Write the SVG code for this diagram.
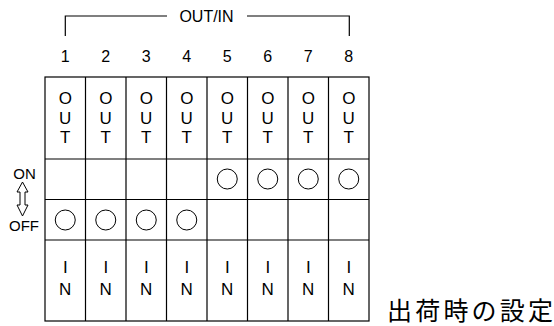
<svg xmlns="http://www.w3.org/2000/svg" width="554" height="326" viewBox="0 0 554 326">
<style>
text{font-family:"Liberation Sans",Arial,sans-serif;fill:#000;text-anchor:middle}
.l{font-size:17px}
.d{font-size:16px}
.o{font-size:15px}
.g{fill:none;stroke:#000;stroke-width:1.2}
.c{fill:none;stroke:#000;stroke-width:1}
.jp{font-family:"Noto Sans CJK JP","Noto Sans CJK SC",sans-serif;font-size:25px;text-anchor:start}
</style>
<rect width="554" height="326" fill="#fff"/>
<g id="bracket">
<path class="g" d="M65.3,36 V16 H167 M247,16 H349.3 V36"/>
<text x="206.5" y="22" class="d">OUT/IN</text>
</g>
<g id="numbers">
<text x="65.25" y="62" class="d">1</text>
<text x="105.75" y="62" class="d">2</text>
<text x="146.25" y="62" class="d">3</text>
<text x="186.75" y="62" class="d">4</text>
<text x="227.25" y="62" class="d">5</text>
<text x="267.75" y="62" class="d">6</text>
<text x="308.25" y="62" class="d">7</text>
<text x="348.75" y="62" class="d">8</text>
</g>
<g id="grid">
<rect class="g" x="45" y="77" width="324" height="244"/>
<path class="g" d="M45,159 H369 M45,199.5 H369 M45,240 H369 M85.5,77 V321 M126,77 V321 M166.5,77 V321 M207,77 V321 M247.5,77 V321 M288,77 V321 M328.5,77 V321"/>
</g>
<g id="out-labels">
<text x="65.25" y="104" class="l">O</text><text x="65.25" y="123.5" class="l">U</text><text x="65.25" y="143" class="l">T</text>
<text x="105.75" y="104" class="l">O</text><text x="105.75" y="123.5" class="l">U</text><text x="105.75" y="143" class="l">T</text>
<text x="146.25" y="104" class="l">O</text><text x="146.25" y="123.5" class="l">U</text><text x="146.25" y="143" class="l">T</text>
<text x="186.75" y="104" class="l">O</text><text x="186.75" y="123.5" class="l">U</text><text x="186.75" y="143" class="l">T</text>
<text x="227.25" y="104" class="l">O</text><text x="227.25" y="123.5" class="l">U</text><text x="227.25" y="143" class="l">T</text>
<text x="267.75" y="104" class="l">O</text><text x="267.75" y="123.5" class="l">U</text><text x="267.75" y="143" class="l">T</text>
<text x="308.25" y="104" class="l">O</text><text x="308.25" y="123.5" class="l">U</text><text x="308.25" y="143" class="l">T</text>
<text x="348.75" y="104" class="l">O</text><text x="348.75" y="123.5" class="l">U</text><text x="348.75" y="143" class="l">T</text>
</g>
<g id="in-labels">
<text x="65.25" y="273" class="l">I</text><text x="65.25" y="295" class="l">N</text>
<text x="105.75" y="273" class="l">I</text><text x="105.75" y="295" class="l">N</text>
<text x="146.25" y="273" class="l">I</text><text x="146.25" y="295" class="l">N</text>
<text x="186.75" y="273" class="l">I</text><text x="186.75" y="295" class="l">N</text>
<text x="227.25" y="273" class="l">I</text><text x="227.25" y="295" class="l">N</text>
<text x="267.75" y="273" class="l">I</text><text x="267.75" y="295" class="l">N</text>
<text x="308.25" y="273" class="l">I</text><text x="308.25" y="295" class="l">N</text>
<text x="348.75" y="273" class="l">I</text><text x="348.75" y="295" class="l">N</text>
</g>
<g id="switches">
<circle class="c" cx="65.25" cy="220" r="10"/>
<circle class="c" cx="105.75" cy="220" r="10"/>
<circle class="c" cx="146.25" cy="220" r="10"/>
<circle class="c" cx="186.75" cy="220" r="10"/>
<circle class="c" cx="227.25" cy="179" r="10"/>
<circle class="c" cx="267.75" cy="179" r="10"/>
<circle class="c" cx="308.25" cy="179" r="10"/>
<circle class="c" cx="348.75" cy="179" r="10"/>
</g>
<g id="onoff">
<text x="24.5" y="179" class="o">ON</text>
<path d="M22.5,182 L28,192 L25,192 L25,205 L28,205 L22.5,216 L17,205 L20,205 L20,192 L17,192 Z" fill="#fff" stroke="#000" stroke-width="1"/>
<text x="24" y="231" class="o">OFF</text>
</g>
<g id="caption">
<text x="387" y="320" class="jp" textLength="166" lengthAdjust="spacing">出荷時の設定</text>
</g>
</svg>
